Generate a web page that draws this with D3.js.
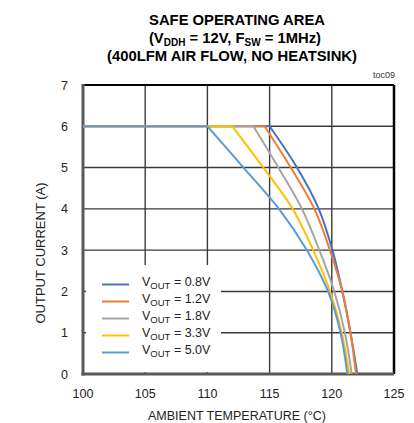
<!DOCTYPE html>
<html>
<head>
<meta charset="utf-8">
<script src="https://cdn.jsdelivr.net/npm/d3@7"></script>
<style>
  body { margin: 0; background: #fff; }
  svg { display: block; font-family: "Liberation Sans", Arial, sans-serif; }
</style>
</head>
<body>
<script>
// output current levels (A), shared by every curve
const currents = [6, 6, 5, 4, 3, 2, 1, 0]

// ambient temperature (°C) where each curve reaches the current above
const temps08 = [100, 115.0, 117.2, 118.95, 120.05, 120.85, 121.5, 122.05]
const temps12 = [100, 114.6, 116.7, 118.6, 119.85, 120.85, 121.5, 121.95]
const temps18 = [100, 113.7, 115.7, 117.6, 119.0, 120.2, 121.05, 121.6]
const temps33 = [100, 112.0, 114.5, 116.85, 118.5, 119.85, 120.8, 121.4]
const temps50 = [100, 110.0, 112.9, 115.75, 118.0, 119.7, 120.7, 121.25]

const vouts = ["0.8V", "1.2V", "1.8V", "3.3V", "5.0V"]
const colors = ["#4472C4", "#ED7D31", "#A5A5A5", "#FFC000", "#5B9BD5"]

const xTicks = [100, 105, 110, 115, 120, 125]
const yTicks = [0, 1, 2, 3, 4, 5, 6, 7]

const series = [temps08, temps12, temps18, temps33, temps50].map(function(t, i) {
    return {
        name: vouts[i],
        color: colors[i],
        values: t.map(function(d, j) { return {temp: d, amps: currents[j]} })
    }
})

const W = 414, H = 423
const margin = {top: 85, right: 20, bottom: 49, left: 83}
const width = 394 - margin.left
const height = 374 - margin.top

const svg = d3.select("body").append("svg")
    .attr("width", W)
    .attr("height", H)

const g = svg.append("g")
    .attr("transform", "translate(" + margin.left + "," + margin.top + ")")

const xScale = d3.scaleLinear().domain([100, 125]).range([0, width])
const yScale = d3.scaleLinear().domain([0, 7]).range([height, 0])

// grid
g.selectAll(".vgrid")
    .data(xTicks.slice(1, -1))
    .enter().append("line")
    .attr("x1", d => xScale(d)).attr("x2", d => xScale(d))
    .attr("y1", 0).attr("y2", height)
    .attr("stroke", "#3a3a3a").attr("stroke-width", 1.4)

g.selectAll(".hgrid")
    .data(yTicks.slice(1, -1))
    .enter().append("line")
    .attr("x1", 0).attr("x2", width)
    .attr("y1", d => yScale(d)).attr("y2", d => yScale(d))
    .attr("stroke", "#3a3a3a").attr("stroke-width", 1.4)

// top and right frame
g.append("line").attr("x1", 0).attr("x2", width).attr("y1", 0).attr("y2", 0)
    .attr("stroke", "#000").attr("stroke-width", 2.2)
g.append("line").attr("x1", width).attr("x2", width).attr("y1", 0).attr("y2", height)
    .attr("stroke", "#000").attr("stroke-width", 2.5)

// legend background covers the grid
g.append("rect")
    .attr("x", 3).attr("y", 180)
    .attr("width", 135).attr("height", 107)
    .attr("fill", "#fff")

// left and bottom axes
g.append("line").attr("x1", 0).attr("x2", 0).attr("y1", -1).attr("y2", height + 1.5)
    .attr("stroke", "#595959").attr("stroke-width", 3)
g.append("line").attr("x1", -1.5).attr("x2", width).attr("y1", height).attr("y2", height)
    .attr("stroke", "#595959").attr("stroke-width", 3)

// tick labels
g.selectAll(".xlab")
    .data(xTicks)
    .enter().append("text")
    .attr("x", d => xScale(d))
    .attr("y", height + 24)
    .attr("text-anchor", "middle")
    .attr("font-size", "12.5px")
    .attr("fill", "#222")
    .text(d => d)

g.selectAll(".ylab")
    .data(yTicks)
    .enter().append("text")
    .attr("x", -15)
    .attr("y", d => yScale(d) + 4.5)
    .attr("text-anchor", "end")
    .attr("font-size", "12.5px")
    .attr("fill", "#222")
    .text(d => d)

// curves: flat part straight, then smooth roll-off
const line = d3.line()
    .curve(d3.curveCatmullRom.alpha(0.5))
    .x(d => xScale(d.temp))
    .y(d => yScale(d.amps))

g.selectAll(".curve")
    .data(series)
    .enter().append("path")
    .attr("d", function(d) {
        const start = d.values[0]
        return "M" + xScale(start.temp) + "," + yScale(start.amps) + "L" + line(d.values.slice(1)).slice(1)
    })
    .attr("fill", "none")
    .attr("stroke", d => d.color)
    .attr("stroke-width", 2)

// legend
const legend = g.selectAll(".legend")
    .data(series)
    .enter().append("g")
    .attr("transform", (d, i) => "translate(0," + (199.5 + i * 17) + ")")

legend.append("line")
    .attr("x1", 19).attr("x2", 46)
    .attr("stroke", d => d.color)
    .attr("stroke-width", 2)

const lt = legend.append("text")
    .attr("x", 59)
    .attr("y", 1)
    .attr("font-size", "12.5px")
    .attr("fill", "#222")
lt.append("tspan").text("V")
lt.append("tspan").attr("dy", 3).attr("font-size", "9.5px").text("OUT")
lt.append("tspan").attr("dy", -3).text(d => " = " + d.name)

// axis titles
svg.append("text")
    .attr("x", 237)
    .attr("y", 419.5)
    .attr("text-anchor", "middle")
    .attr("font-size", "12.5px")
    .attr("fill", "#222")
    .text("AMBIENT TEMPERATURE (°C)")

svg.append("text")
    .attr("transform", "translate(45,253) rotate(-90)")
    .attr("text-anchor", "middle")
    .attr("font-size", "13px")
    .attr("fill", "#222")
    .text("OUTPUT CURRENT (A)")

// title
svg.append("text")
    .attr("x", 237).attr("y", 25)
    .attr("text-anchor", "middle")
    .attr("font-size", "14.8px").attr("font-weight", "bold")
    .text("SAFE OPERATING AREA")

const t2 = svg.append("text")
    .attr("x", 235).attr("y", 43)
    .attr("text-anchor", "middle")
    .attr("font-size", "14.8px").attr("font-weight", "bold")
t2.append("tspan").text("(V")
t2.append("tspan").attr("dy", 3).attr("font-size", "10px").text("DDH")
t2.append("tspan").attr("dy", -3).text(" = 12V, F")
t2.append("tspan").attr("dy", 3).attr("font-size", "10px").text("SW")
t2.append("tspan").attr("dy", -3).text(" = 1MHz)")

svg.append("text")
    .attr("x", 232).attr("y", 61)
    .attr("text-anchor", "middle")
    .attr("font-size", "14.8px").attr("font-weight", "bold")
    .text("(400LFM AIR FLOW, NO HEATSINK)")

svg.append("text")
    .attr("x", 395).attr("y", 78)
    .attr("text-anchor", "end")
    .attr("font-size", "9px")
    .attr("fill", "#333")
    .text("toc09")
</script>
</body>
</html>
